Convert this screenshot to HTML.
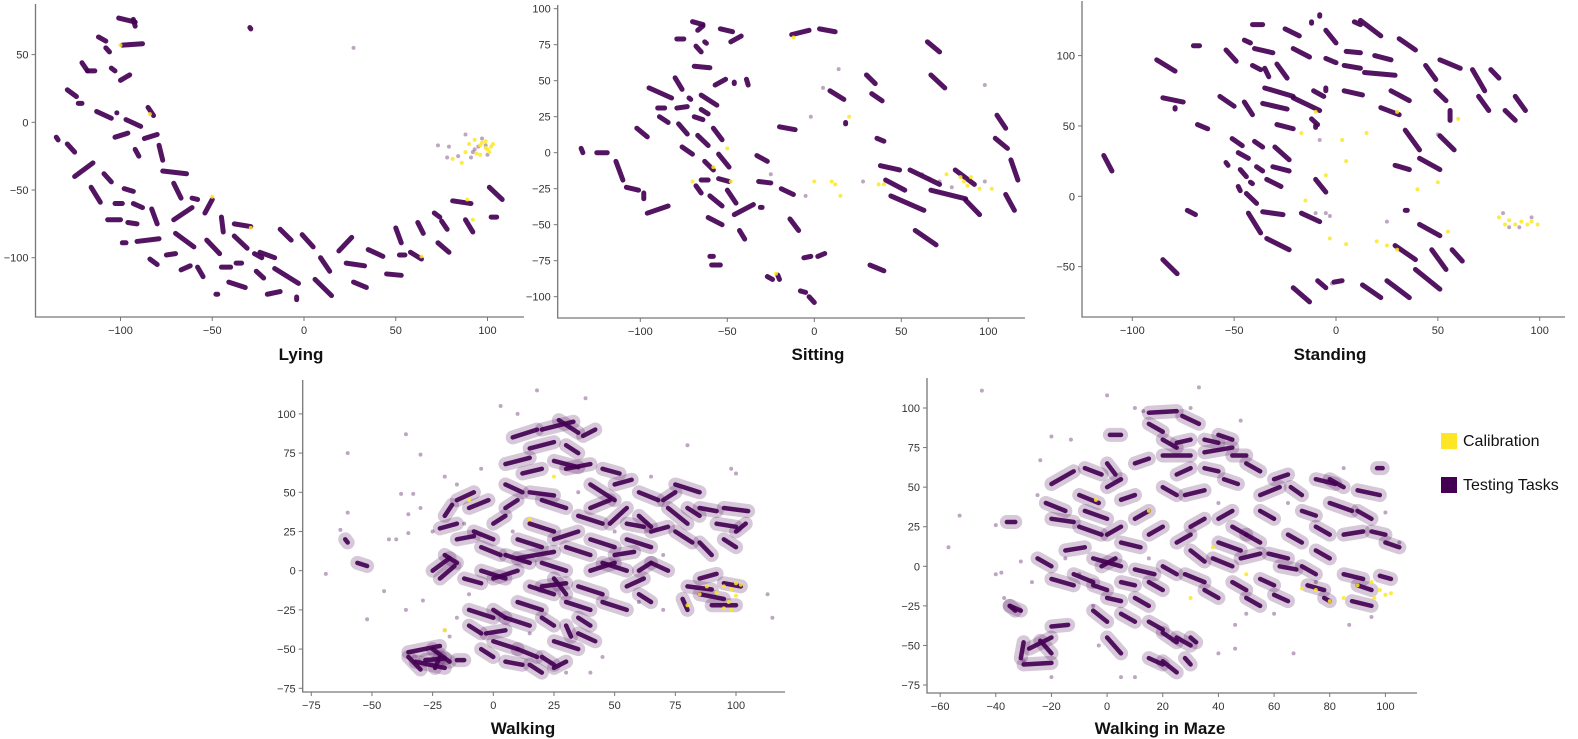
<!DOCTYPE html>
<html><head><meta charset="utf-8"><style>
html,body{margin:0;padding:0;background:#fff;}
svg{display:block;font-family:"Liberation Sans",sans-serif;}
</style></head><body>
<svg id="chart" width="1578" height="739" viewBox="0 0 1578 739">
<g id="legend">
<rect x="1441" y="433" width="16" height="16" fill="#fde725"/>
<text x="1463" y="446" font-size="16" fill="#111">Calibration</text>
<rect x="1441" y="477" width="16" height="16" fill="#440154"/>
<text x="1463" y="490" font-size="16" fill="#111">Testing Tasks</text>
</g>
</svg>
<script>
// ---------- tick labels ----------
const lyingXTicks=[-100,-50,0,50,100];
const lyingYTicks=[50,0,-50,-100];
const sittingXTicks=[-100,-50,0,50,100];
const sittingYTicks=[100,75,50,25,0,-25,-50,-75,-100];
const standingXTicks=[-100,-50,0,50,100];
const standingYTicks=[100,50,0,-50];
const walkingXTicks=[-75,-50,-25,0,25,50,75,100];
const walkingYTicks=[100,75,50,25,0,-25,-50,-75];
const mazeXTicks=[-60,-40,-20,0,20,40,60,80,100];
const mazeYTicks=[100,75,50,25,0,-25,-50,-75];

// ---------- Lying data ----------
const lyingSegs=[[-101,77,-92,74],[-93,76,-92,71],[-112,63,-108,60],[-108,55,-106,52],[-99,57,-88,58],[-121,44,-118,38],[-118,38,-114,38],[-105,40,-103,38],[-100,31,-95,35],[-129,24,-124,19],[-123,14,-121,14],[-113,8,-105,3],[-102,7,-102,7],[-97,2,-89,-3],[-85,11,-82,5],[-135,-11,-134,-13],[-129,-16,-125,-22],[-125,-40,-115,-30],[-103,-11,-96,-8],[-92,-20,-90,-25],[-87,-12,-80,-9],[-79,-17,-77,-28],[-77,-36,-64,-38],[-109,-38,-105,-44],[-116,-48,-111,-59],[-98,-49,-93,-51],[-71,-45,-67,-56],[-103,-60,-99,-60],[-93,-60,-88,-63],[-83,-64,-80,-75],[-107,-72,-100,-72],[-96,-74,-91,-75],[-71,-72,-61,-63],[-61,-56,-58,-57],[-54,-67,-50,-57],[-99,-89,-97,-89],[-91,-88,-79,-86],[-84,-101,-80,-105],[-75,-98,-70,-97],[-70,-82,-60,-92],[-67,-109,-62,-106],[-58,-107,-55,-114],[-53,-87,-46,-97],[-48,-127,-47,-127],[-45,-70,-44,-81],[-45,-107,-40,-107],[-41,-118,-32,-122],[-38,-84,-31,-93],[-38,-75,-29,-77],[-37,-104,-34,-104],[-27,-97,-23,-100],[-24,-96,-16,-100],[-26,-110,-22,-115],[-20,-127,-13,-125],[-13,-79,-7,-87],[-16,-108,-3,-119],[-4,-131,-4,-129],[-1,-83,5,-92],[6,-116,15,-128],[9,-100,14,-110],[19,-95,26,-85],[23,-104,33,-106],[27,-118,34,-122],[35,-94,43,-99],[45,-112,53,-113],[50,-78,53,-89],[52,-98,55,-98],[58,-96,64,-101],[62,-74,65,-82],[71,-67,74,-70],[73,-89,79,-96],[75,-73,78,-79],[81,-58,91,-60],[88,-72,92,-81],[101,-48,108,-57],[102,-70,105,-70],[-29.5,70,-29,69]];
const lyingFade=[[27,55],[73,-17],[79,-18],[88,-9],[92,-22],[95,-18],[99,-17],[91,-26],[84,-25],[78,-26],[97,-12],[93,-20],[100,-24]];
const lyingCal=[[96,-17],[97,-15],[99,-19],[100,-20],[101,-22],[94,-23],[90,-16],[88,-22],[81,-27],[86,-30],[102,-18],[103,-16],[93,-13],[99,-14],[96,-24],[-100,57],[-84,6],[-29,-78],[-50,-55],[89,-57],[92,-72],[64,-99]];

// ---------- Sitting data ----------
const sittingSegs=[[-70,91,-64,89],[-67,85,-64,88],[-79,79,-75,79],[-68,74,-65,70],[-63,77,-62,76],[-54,86,-47,84],[-48,77,-42,81],[-69,60,-60,59],[-80,52,-76,44],[-57,47,-51,51],[-46,49,-46,48],[-39,51,-38,47],[-95,45,-82,38],[-72,38,-71,37],[-65,40,-56,33],[-90,31,-86,31],[-79,31,-73,32],[-65,30,-61,27],[-89,25,-84,21],[-69,25,-64,23],[-102,17,-96,11],[-78,20,-73,13],[-67,12,-61,5],[-58,17,-53,9],[-76,4,-70,-1],[-134,3,-133,0],[-125,0,-119,0],[-114,-6,-110,-19],[-108,-24,-101,-26],[-98,-28,-98,-32],[-63,-6,-58,-12],[-55,-1,-49,-10],[-68,-23,-65,-28],[-65,-19,-61,-19],[-55,-18,-49,-20],[-96,-42,-84,-37],[-60,-30,-53,-37],[-50,-26,-45,-35],[-46,-43,-35,-36],[-61,-45,-53,-50],[-43,-54,-40,-60],[-60,-72,-58,-72],[-59,-78,-54,-78],[-33,-2,-27,-6],[-32,-20,-25,-21],[-19,-25,-12,-29],[-31,-38,-30,-38],[-14,-46,-9,-54],[-20,18,-11,16],[-13,82,-3,85],[-27,-86,-24,-88],[-21,-85,-20,-88],[-6,-73,-2,-72],[2,-72,6,-70],[-8,-96,-5,-97],[-3,-100,0,-104],[3,86,12,84],[9,43,17,37],[18,21,18,20],[30,54,35,48],[33,41,39,36],[36,10,40,8],[65,77,72,70],[67,54,75,45],[105,26,110,17],[104,10,111,3],[113,-5,117,-19],[38,-9,49,-12],[41,-19,52,-26],[44,-30,63,-40],[55,-12,72,-22],[67,-26,87,-32],[81,-12,92,-22],[87,-33,95,-43],[110,-29,115,-40],[58,-54,70,-64],[32,-78,40,-82]];
const sittingFade=[[14,58],[5,45],[62,-15],[66,-18],[72,-20],[79,-24],[98,-20],[28,-20],[-25,-15],[98,47],[-2,25],[-5,-30]];
const sittingCal=[[40,-22],[37,-22],[12,-22],[15,-30],[20,25],[76,-15],[84,-17],[86,-20],[88,-23],[95,-25],[102,-25],[90,-17],[-50,3],[-58,-10],[-22,-84],[-12,80],[-70,-20],[-48,-20],[0,-20],[10,-20]];

// ---------- Standing data ----------
const standingSegs=[[-114,29,-110,18],[-88,97,-79,89],[-85,70,-75,67],[-79,63,-79,62],[-70,107,-67,107],[-68,51,-63,48],[-73,-10,-69,-13],[-85,-45,-78,-55],[-57,71,-50,64],[-54,104,-49,96],[-45,111,-42,109],[-41,122,-36,122],[-40,105,-31,102],[-41,93,-37,90],[-35,91,-33,85],[-45,67,-41,58],[-36,66,-24,62],[-35,77,-21,71],[-29,51,-21,48],[-29,94,-24,84],[-25,119,-18,114],[-21,105,-13,99],[-21,70,-8,61],[-12,124,-12,123],[-8,129,-8,128],[-5,118,0,109],[-5,98,0,95],[-11,75,-6,71],[-5,77,-5,75],[-12,55,-9,51],[4,75,13,72],[4,93,12,91],[5,103,12,102],[9,124,12,122],[-51,41,-46,36],[-48,31,-43,27],[-40,39,-36,35],[-30,35,-23,26],[-31,21,-23,18],[-39,21,-36,18],[-47,19,-44,14],[-34,12,-27,7],[-42,10,-41,9],[-48,7,-47,4],[-44,2,-39,-5],[-43,-12,-37,-26],[-36,-11,-26,-13],[-34,-30,-23,-38],[-17,-12,-8,-18],[-10,12,-5,3],[-54,24,-53,22],[-21,-65,-13,-75],[-9,-60,-5,-65],[-1,-61,3,-60],[12,125,22,114],[19,100,27,97],[14,88,29,86],[27,75,36,68],[22,63,31,58],[31,112,39,104],[44,93,49,83],[49,75,54,68],[51,97,61,91],[56,61,56,54],[34,47,41,33],[51,43,58,33],[29,22,36,19],[41,27,51,19],[34,-10,35,-10],[29,-35,39,-45],[41,-20,51,-28],[47,-38,54,-52],[39,-52,51,-66],[57,-38,62,-46],[13,-63,22,-72],[25,-60,36,-72],[67,90,73,75],[83,61,88,54],[88,71,93,61],[70,71,75,61],[76,90,80,84],[-10,50,-10,49]];
const standingFade=[[-10,-12],[-5,-12],[-3,-14],[90,-22],[85,-22],[50,44],[25,-18],[82,-12],[96,-15],[-8,40],[-2,-62]];
const standingCal=[[80,-15],[85,-17],[88,-20],[91,-18],[94,-20],[96,-18],[99,-20],[83,-20],[20,-32],[25,-35],[30,-38],[5,-34],[-3,-30],[-10,60],[-17,45],[-15,-3],[-5,15],[5,25],[3,40],[15,45],[40,5],[50,10],[55,-25],[60,55],[30,60]];

// ---------- Walking data ----------
const walkingSegs=[[-61,20,-60,18],[-56,5,-52,3],[-35,-52,-22,-48],[-32,-58,-20,-62],[-35,-55,-30,-63],[-25,-50,-18,-58],[-22,-55,-24,-62],[-28,-57,-20,-56],[-15,-57,-12,-57],[-25,0,-18,8],[-22,-5,-16,3],[-20,10,-15,5],[-20,35,-17,42],[-22,27,-15,30],[20,90,33,95],[27,96,35,88],[37,86,42,90],[15,78,25,82],[5,68,15,72],[25,70,35,66],[30,65,40,68],[12,62,20,65],[5,55,12,50],[15,50,25,48],[20,45,30,40],[40,55,50,45],[50,55,57,58],[48,30,55,40],[60,50,68,45],[72,40,80,30],[75,55,85,50],[85,40,92,38],[95,40,105,38],[92,30,100,28],[60,35,65,28],[-10,40,-2,45],[0,30,5,35],[5,40,10,45],[-8,25,0,20],[-5,15,3,10],[-15,20,-8,22],[10,20,20,15],[15,30,25,25],[25,20,35,25],[30,15,40,10],[40,20,50,15],[45,5,55,0],[55,20,65,15],[55,30,62,28],[65,25,72,28],[75,25,82,18],[85,18,90,10],[95,20,100,15],[-5,0,5,-5],[0,-5,10,0],[5,10,15,5],[20,5,30,0],[25,-5,30,-15],[35,-10,45,-15],[40,0,50,5],[30,-20,40,-25],[45,-20,55,-25],[55,-10,62,-5],[60,0,65,5],[15,-10,25,-15],[10,-20,20,-25],[80,-10,90,-12],[85,-15,95,-18],[90,-22,100,-22],[78,-18,80,-25],[-10,-25,0,-30],[-10,-35,-5,-40],[0,-25,5,-30],[5,-30,15,-35],[20,-30,25,-35],[30,-35,32,-42],[0,-45,10,-50],[10,-50,18,-55],[5,-58,12,-60],[15,-60,20,-65],[20,-55,25,-60],[25,-45,35,-50],[35,-30,40,-35],[-3,-40,5,-38],[10,8,25,12],[35,35,45,30],[65,5,72,0],[45,65,52,62],[95,-8,102,-10],[8,85,18,90],[30,80,35,75],[-15,45,-8,50],[40,40,48,45],[70,45,75,50],[80,40,85,35],[100,25,104,30],[50,10,58,12],[-12,-5,-5,-8],[35,-40,42,-45],[-5,-50,0,-55],[25,-62,30,-58],[60,-15,65,-20],[20,-10,30,-8],[85,-5,92,-2]];
const walkingFade=[[-60,37],[-63,26],[-45,-13],[-52,-31],[-36,-25],[-29,-19],[-30,74],[-36,87],[-35,36],[-35,24],[-40,20],[-43,20],[-38,49],[-33,49],[-5,65],[10,100],[3,105],[18,115],[38,110],[80,80],[98,65],[100,62],[113,-15],[115,-30],[-15,55],[-20,60],[-30,40],[-25,25],[30,-65],[40,-65],[45,-55],[70,-25],[60,-20],[-10,-15],[-15,-30],[65,60],[-12,30],[8,25],[50,25],[70,10],[35,50],[15,-40],[-18,-42],[-20,-38],[-69,-2],[-60,75]];
const walkingCal=[[95,-10],[98,-12],[100,-8],[102,-9],[100,-16],[97,-20],[98,-25],[95,-24],[92,-14],[88,-10],[85,-15],[80,-22],[-20,-38],[15,33],[25,60],[-10,45]];

// ---------- Walking in Maze data ----------
const mazeSegs=[[-36,28,-33,28],[-35,-25,-31,-28],[-25,5,-20,0],[-28,-52,-20,-45],[-30,-48,-31,-58],[-30,-62,-20,-61],[-24,-47,-20,-55],[-20,-38,-14,-37],[-20,-8,-12,-12],[-12,-5,-5,-10],[-5,-12,0,-15],[-20,52,-12,60],[-22,40,-15,35],[-20,30,-12,28],[-10,45,-3,40],[-8,35,0,30],[-10,25,-2,20],[-8,62,-2,58],[0,65,3,58],[0,50,5,55],[5,42,10,45],[10,30,15,35],[15,20,20,25],[5,15,12,12],[0,20,5,25],[-5,5,5,0],[1,83,5,83],[15,97,25,98],[27,95,33,90],[15,90,20,85],[20,80,25,75],[25,78,30,80],[35,80,40,78],[35,72,45,75],[40,83,45,80],[20,70,30,70],[10,65,15,68],[25,58,30,62],[35,62,40,60],[20,50,25,45],[28,45,35,48],[45,70,50,70],[50,65,55,60],[42,55,47,52],[55,45,62,50],[60,55,65,58],[66,50,70,45],[75,55,82,52],[90,48,98,45],[80,40,88,35],[70,35,75,32],[90,35,95,30],[95,22,100,20],[100,15,105,12],[85,20,92,22],[75,25,80,20],[65,20,70,15],[58,8,65,5],[50,20,55,15],[45,25,50,20],[40,15,48,10],[38,5,45,0],[30,10,35,3],[25,15,30,20],[20,0,25,-5],[10,-2,17,-5],[15,-10,20,-15],[10,-20,15,-25],[0,-20,5,-22],[-5,-28,0,-35],[5,-30,10,-35],[15,-35,20,-40],[20,-42,25,-48],[25,-45,30,-50],[0,-45,5,-55],[15,-58,20,-62],[20,-60,25,-67],[28,-58,30,-62],[30,-45,32,-48],[28,-5,35,-10],[35,-15,40,-20],[45,-10,50,-15],[50,-20,55,-25],[55,-8,60,-12],[62,0,68,-2],[70,0,75,-5],[72,-12,78,-15],[78,-20,80,-22],[85,-5,92,-8],[90,-12,95,-15],[88,-22,95,-25],[98,-6,102,-8],[-35,-25,-33,-28],[97,62,99,62],[-15,10,-8,12],[5,-10,10,-12],[40,30,45,35],[55,35,60,30],[80,55,85,50],[60,-18,65,-22],[-2,0,3,5],[30,25,35,30],[48,5,55,8],[75,10,80,5]];
const mazeFade=[[-57,12],[-45,111],[-53,32],[-40,26],[-38,-4],[-37,-20],[-31,3],[-27,-10],[-24,67],[-20,82],[-13,80],[-25,45],[0,108],[10,100],[13,98],[85,62],[-3,-50],[60,-30],[67,-55],[87,-37],[95,-32],[46,-37],[46,-52],[-10,-5],[-15,5],[-5,-25],[-30,-60],[5,-70],[10,-70],[40,-55],[50,-30],[60,30],[65,40],[105,15],[-40,-5],[-20,-70],[33,113],[48,92],[30,100],[100,34],[75,-10],[40,40],[55,35],[15,5]];
const mazeCal=[[95,-10],[98,-15],[100,-18],[102,-17],[96,-20],[90,-12],[85,-20],[80,-22],[75,-15],[70,-14],[30,-20],[38,12],[-4,42],[15,35],[50,-5]];

const PURPLE='#440154', YELLOW='#fde725';
const NS='http://www.w3.org/2000/svg';
const svg=document.getElementById('chart');

function mk(tag,attrs,parent){const e=document.createElementNS(NS,tag);for(const k in attrs)e.setAttribute(k,attrs[k]);parent.appendChild(e);return e;}

function panel(key,title,cfg,xt,yt,segs,fade,cal){
  const g=mk('g',{},svg);
  
  
  const X=v=>cfg.x0+v*cfg.sx, Y=v=>cfg.y0-v*cfg.sy;
  const ax=mk('path',{d:`M${cfg.left},${cfg.top}V${cfg.bottom}H${cfg.right}`,stroke:'#777',fill:'none','stroke-width':1.3},g);
  
  
  xt.forEach(v=>{
    mk('line',{x1:X(v),x2:X(v),y1:cfg.bottom,y2:cfg.bottom+4,stroke:'#777'},g);
    const t=mk('text',{x:X(v),y:cfg.bottom+17,'font-size':11,'text-anchor':'middle',fill:'#333'},g);
    t.textContent=v<0?'\u2212'+Math.abs(v):String(v);
    
    
  });
  yt.forEach(v=>{
    mk('line',{x1:cfg.left-4,x2:cfg.left,y1:Y(v),y2:Y(v),stroke:'#777'},g);
    const t=mk('text',{x:cfg.left-7,y:Y(v)+4,'font-size':11,'text-anchor':'end',fill:'#333'},g);
    t.textContent=v<0?'\u2212'+Math.abs(v):String(v);
    
    
  });
  if(cfg.halo){
    segs.forEach(s=>{
      const h=mk('line',{x1:X(s[0]),y1:Y(s[1]),x2:X(s[2]),y2:Y(s[3]),stroke:PURPLE,'stroke-width':cfg.halo,'stroke-linecap':'round','stroke-opacity':0.22},g);
      
      
    });
  }
  fade.forEach(p=>{
    const c=mk('circle',{cx:X(p[0]),cy:Y(p[1]),r:2,fill:PURPLE,'fill-opacity':0.35},g);
    
    
  });
  segs.forEach(s=>{
    const l=mk('line',{x1:X(s[0]),y1:Y(s[1]),x2:X(s[2]),y2:Y(s[3]),stroke:PURPLE,'stroke-width':cfg.w,'stroke-linecap':'round','stroke-opacity':0.92},g);
    
    
  });
  cal.forEach(p=>{
    const c=mk('circle',{cx:X(p[0]),cy:Y(p[1]),r:2,fill:YELLOW,'fill-opacity':0.85},g);
    
    
  });
  const tt=mk('text',{x:cfg.tx,y:cfg.ty,'font-size':17,'font-weight':'bold','text-anchor':'middle',fill:'#111'},g);
  tt.textContent=title;
  
  
}

panel('lying','Lying',{x0:304,sx:1.835,y0:122.3,sy:1.354,left:35.5,right:524,top:4,bottom:317,tx:301,ty:360,w:5},lyingXTicks,lyingYTicks,lyingSegs,lyingFade,lyingCal);
panel('sitting','Sitting',{x0:814.3,sx:1.74,y0:152.7,sy:1.44,left:557.7,right:1025,top:5,bottom:318,tx:818,ty:360,w:5},sittingXTicks,sittingYTicks,sittingSegs,sittingFade,sittingCal);
panel('standing','Standing',{x0:1336,sx:2.037,y0:196.3,sy:1.407,left:1082,right:1565,top:1,bottom:317,tx:1330,ty:360,w:5},standingXTicks,standingYTicks,standingSegs,standingFade,standingCal);
panel('walking','Walking',{x0:493.3,sx:2.427,y0:570.7,sy:1.568,left:302.7,right:785,top:380,bottom:692,tx:523,ty:734,w:4.5,halo:14},walkingXTicks,walkingYTicks,walkingSegs,walkingFade,walkingCal);
panel('maze','Walking in Maze',{x0:1107.1,sx:2.783,y0:566.3,sy:1.583,left:927,right:1417,top:378,bottom:693,tx:1160,ty:734,w:4.5,halo:14},mazeXTicks,mazeYTicks,mazeSegs,mazeFade,mazeCal);
</script>
</body></html>
